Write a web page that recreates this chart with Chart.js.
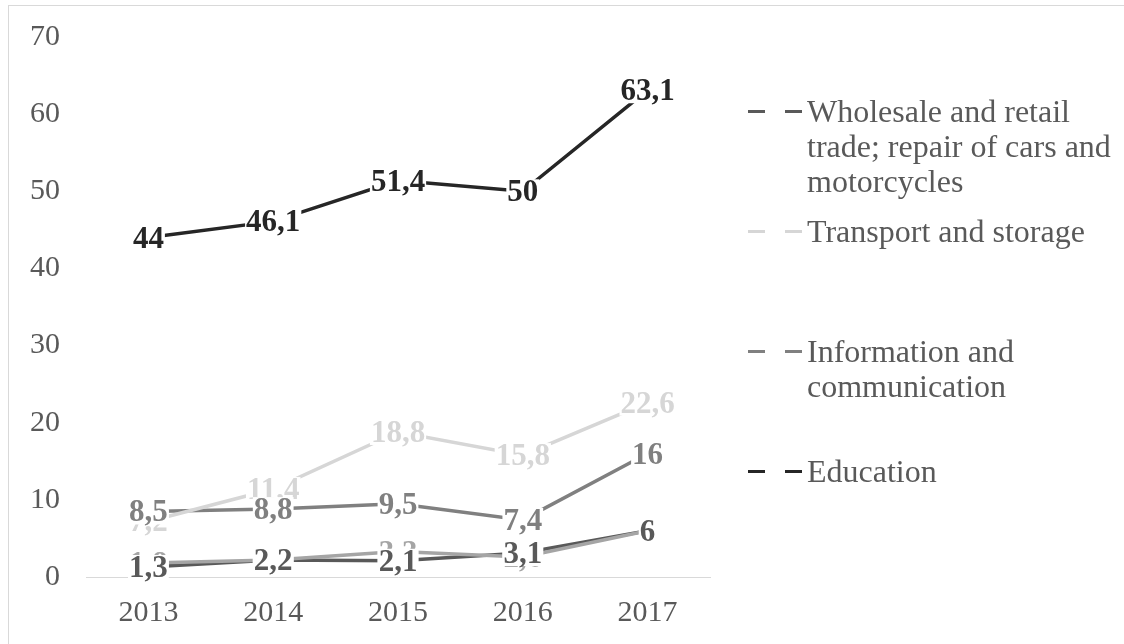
<!DOCTYPE html>
<html>
<head>
<meta charset="utf-8">
<script src="https://cdn.jsdelivr.net/npm/chart.js@4/dist/chart.umd.min.js"></script>
<style>
  body { margin: 0; background: #fff; }
  #wrap { position: relative; width: 1124px; height: 644px; overflow: hidden; }
  #frame { position: absolute; left: 8px; top: 5px; width: 1200px; height: 700px; border: 1px solid #d9d9d9; pointer-events: none; }
  #legend { position: absolute; left: 748px; top: 94px; font-family: "Liberation Serif", serif; font-size: 32px; line-height: 35px; color: #595959; }
  .item { display: flex; height: 120px; }
  .mark { display: flex; width: 54px; margin-top: 16px; height: 3px; justify-content: space-between; }
  .mark span { display: block; width: 17px; height: 3px; }
  .txt { margin-left: 5px; white-space: nowrap; }
</style>
</head>
<body>
<div id="wrap">
  <canvas id="myChart" width="1124" height="644"></canvas>
  <div id="frame"></div>
  <div id="legend"></div>
</div>
<script>
// values
const years = ["2013", "2014", "2015", "2016", "2017"];
const unnamed = [1.8, 2.2, 3.3, 2.6, 6];
const wholesale = [1.3, 2.2, 2.1, 3.1, 6];
const transport = [7.2, 11.4, 18.8, 15.8, 22.6];
const information = [8.5, 8.8, 9.5, 7.4, 16];
const education = [44, 46.1, 51.4, 50, 63.1];
const yTicks = [0, 10, 20, 30, 40, 50, 60, 70];

const seriesNames = [
  null,
  ["Wholesale and retail", "trade; repair of cars and", "motorcycles"],
  ["Transport and storage"],
  ["Information and", "communication"],
  ["Education"],
];
const seriesColors = ["#a5a5a5", "#595959", "#d6d6d6", "#808080", "#262626"];
const seriesData = [unnamed, wholesale, transport, information, education];

// data labels drawn on a white box, like the original
const valueLabels = {
  id: "valueLabels",
  afterDatasetsDraw(chart) {
    const ctx = chart.ctx;
    ctx.save();
    ctx.font = 'bold 31px "Liberation Serif"';
    ctx.textAlign = "center";
    ctx.textBaseline = "middle";
    chart.data.datasets.forEach((ds, i) => {
      const meta = chart.getDatasetMeta(i);
      meta.data.forEach((pt, j) => {
        const txt = String(ds.data[j]).replace(".", ",");
        const w = ctx.measureText(txt).width;
        ctx.fillStyle = "#fff";
        ctx.fillRect(pt.x - w / 2 - 1, pt.y - 12, w + 2, 25);
        ctx.fillStyle = ds.borderColor;
        ctx.fillText(txt, pt.x, pt.y + 2);
      });
    });
    ctx.restore();
  },
};

const datasets = [];
for (let i = 0; i < seriesData.length; i++) {
  datasets.push({
    label: seriesNames[i] ? seriesNames[i].join(" ") : "",
    data: seriesData[i],
    borderColor: seriesColors[i],
    backgroundColor: seriesColors[i],
    borderWidth: 3.5,
    pointRadius: 0,
    tension: 0,
  });
}

const ctx = document.getElementById("myChart");
new Chart(ctx, {
  type: "line",
  data: { labels: years, datasets: datasets },
  options: {
    responsive: false,
    animation: false,
    layout: { padding: { top: 37, left: 0, right: 414, bottom: 0 } },
    plugins: {
      legend: { display: false },
      tooltip: { enabled: false },
    },
    scales: {
      x: {
        offset: true,
        grid: { display: false, drawTicks: false },
        border: { display: true, color: "#d9d9d9", width: 1 },
        afterFit: (axis) => { axis.height = 67; },
        ticks: {
          color: "#595959",
          padding: 18,
          font: { family: "Liberation Serif", size: 30 },
        },
      },
      y: {
        min: 0,
        max: 70,
        grid: { display: false, drawTicks: false },
        border: { display: false },
        afterFit: (axis) => {
          axis.width = 86;
          axis.paddingTop = 0;
          axis.paddingBottom = 0;
        },
        afterBuildTicks: (axis) => {
          axis.ticks = yTicks.map((v) => ({ value: v }));
        },
        ticks: {
          color: "#595959",
          padding: 26,
          font: { family: "Liberation Serif", size: 30 },
        },
      },
    },
  },
  plugins: [valueLabels],
});

// legend on the right, one slot per named series
const legend = document.getElementById("legend");
for (let i = 0; i < seriesNames.length; i++) {
  if (!seriesNames[i]) continue;
  const item = document.createElement("div");
  item.className = "item";
  item.innerHTML =
    '<div class="mark"><span style="background:' + seriesColors[i] + '"></span><span style="background:' + seriesColors[i] + '"></span></div>' +
    '<div class="txt">' + seriesNames[i].join("<br>") + "</div>";
  legend.appendChild(item);
}
</script>
</body>
</html>
